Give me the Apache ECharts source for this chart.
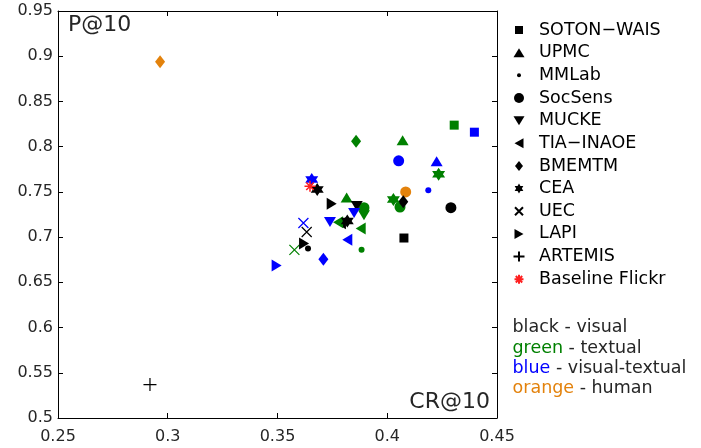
<!DOCTYPE html>
<html>
<head>
<meta charset="utf-8">
<script src="https://cdn.jsdelivr.net/npm/echarts@6/dist/echarts.min.js"></script>
<style>
html,body{margin:0;padding:0;background:#fff;}
#chart{width:701px;height:448px;}
</style>
</head>
<body>
<div id="chart"></div>
<script>
// Data: [CR@10, P@10, run type]  v = visual, t = textual, vt = visual-textual, h = human
const SOTON_WAIS = [[0.4076,0.699,'v'],[0.4305,0.8238,'t'],[0.4397,0.816,'vt']];
const UPMC = [[0.407,0.8071,'t'],[0.3815,0.7437,'t'],[0.4225,0.7839,'vt']];
const MMLab = [[0.3883,0.6861,'t'],[0.4187,0.7518,'vt'],[0.3639,0.6875,'v']];
const SocSens = [[0.429,0.7326,'v'],[0.3894,0.7326,'t'],[0.4058,0.7333,'t'],[0.4052,0.7844,'vt'],[0.4084,0.75,'h']];
const MUCKE = [[0.3861,0.7344,'v'],[0.3894,0.7241,'t'],[0.3849,0.7266,'vt'],[0.3739,0.7167,'vt']];
const TIA_INAOE = [[0.3789,0.7152,'v'],[0.3776,0.7163,'t'],[0.3879,0.7094,'t'],[0.3818,0.6972,'vt']];
const BMEMTM = [[0.4073,0.739,'v'],[0.3858,0.806,'t'],[0.3709,0.6754,'vt'],[0.2965,0.8939,'h']];
const CEA = [[0.3681,0.7526,'v'],[0.3818,0.7178,'v'],[0.4234,0.7695,'t'],[0.4028,0.7415,'t'],[0.3656,0.7636,'vt']];
const UEC = [[0.3633,0.7056,'v'],[0.3577,0.6859,'t'],[0.3618,0.7156,'vt']];
const LAPI = [[0.3747,0.737,'v'],[0.3621,0.693,'v'],[0.3496,0.6687,'vt']];
const ARTEMIS = [[0.2919,0.537,'v']];
const BaselineFlickr = [[0.3648,0.7562,'b']];

const xTicks = {min:0.25, max:0.45, interval:0.05};
const yTicks = {min:0.5, max:0.95, interval:0.05};

const COLORS = {v:'#000000', t:'#008000', vt:'#0000ff', h:'#e3820c', b:'#ff2020'};
const FONT = 'DejaVu Sans';
const TXT = '#262626';

// marker shapes
const HEX = 'path://M5,0L6.443,2.5L9.33,2.5L7.887,5L9.33,7.5L6.443,7.5L5,10L3.557,7.5L0.67,7.5L2.113,5L0.67,2.5L3.557,2.5Z';
const XPATH = 'path://M0,0L10,10M10,0L0,10';
const PLUS = 'path://M5,0L5,10M0,5L10,5';
const AST = 'path://M0,5L10,5M5,0L5,10M1.6,1.6L8.4,8.4M8.4,1.6L1.6,8.4';

// legend icons drawn in a 30x10 box (the leading moves fix the box)
const BOX = 'path://M0,0M30,10';
const LEG_ICONS = {
  'SOTON\u2212WAIS': BOX + 'M11,1L19,1L19,9L11,9Z',
  'UPMC': BOX + 'M15,0.5L20.5,9.5L9.5,9.5Z',
  'MMLab': BOX + 'M13,5A2,2,0,1,0,17,5A2,2,0,1,0,13,5Z',
  'SocSens': BOX + 'M10,5A5,5,0,1,0,20,5A5,5,0,1,0,10,5Z',
  'MUCKE': BOX + 'M9.5,0.5L20.5,0.5L15,9.5Z',
  'TIA\u2212INAOE': BOX + 'M10.5,5L19.5,0L19.5,10Z',
  'BMEMTM': BOX + 'M15,0L19,5L15,10L11,5Z',
  'CEA': BOX + 'M15,0L16.443,2.5L19.33,2.5L17.887,5L19.33,7.5L16.443,7.5L15,10L13.557,7.5L10.67,7.5L12.113,5L10.67,2.5L13.557,2.5Z',
  'UEC': BOX + 'M11,1L19,9M19,1L11,9',
  'LAPI': BOX + 'M10.5,0L19.5,5L10.5,10Z',
  'ARTEMIS': BOX + 'M15,0L15,10M9.5,5L20.5,5',
  'Baseline Flickr': BOX + 'M10.5,5L19.5,5M15,0.5L15,9.5M11.8,1.8L18.2,8.2M18.2,1.8L11.8,8.2'
};

function mk(name, arr, symbol, size, opts) {
  opts = opts || {};
  const sw = opts.stroke || 0;
  const baseColor = opts.color || '#000';
  return {
    name: name,
    type: 'scatter',
    symbol: symbol,
    symbolSize: size,
    symbolRotate: opts.rotate || 0,
    itemStyle: {color: baseColor, borderColor: baseColor, borderWidth: sw, opacity: 1},
    emphasis: {disabled: true},
    data: arr.map(function (d) {
      const c = COLORS[d[2]];
      return {value: [d[0], d[1]], itemStyle: {color: c, borderColor: c, borderWidth: sw}};
    })
  };
}

const series = [
  mk('SOTON\u2212WAIS', SOTON_WAIS, 'rect', 9),
  mk('UPMC', UPMC, 'triangle', [12, 10]),
  mk('MMLab', MMLab, 'circle', 6),
  mk('SocSens', SocSens, 'circle', 11),
  mk('MUCKE', MUCKE, 'triangle', [12, 10], {rotate: 180}),
  mk('TIA\u2212INAOE', TIA_INAOE, 'triangle', [12, 10], {rotate: 90}),
  mk('BMEMTM', BMEMTM, 'diamond', [10, 13]),
  mk('CEA', CEA, HEX, 13),
  mk('UEC', UEC, XPATH, 10, {stroke: 1.2}),
  mk('LAPI', LAPI, 'triangle', [12, 10], {rotate: -90}),
  mk('ARTEMIS', ARTEMIS, PLUS, 13, {stroke: 1.2}),
  mk('Baseline Flickr', BaselineFlickr, AST, 11, {stroke: 1.5, color: COLORS.b})
];

const legendData = series.map(function (s) {
  return {name: s.name, icon: LEG_ICONS[s.name]};
});

const axisCommon = {
  type: 'value',
  axisLine: {show: true, onZero: false, lineStyle: {color: '#000', width: 1}},
  axisTick: {show: true, inside: true, length: 5, lineStyle: {color: '#000', width: 1}},
  splitLine: {show: false},
  axisLabel: {fontFamily: FONT, fontSize: 16, color: TXT}
};

const chart = echarts.init(document.getElementById('chart'), null, {renderer: 'canvas'});
chart.setOption({
  animation: false,
  backgroundColor: '#fff',
  grid: {left: 58, top: 11, right: 204, bottom: 30, containLabel: false},
  xAxis: [
    Object.assign({}, axisCommon, xTicks, {position: 'bottom', axisLabel: Object.assign({}, axisCommon.axisLabel, {margin: 11})}),
    Object.assign({}, axisCommon, xTicks, {position: 'top', axisLabel: {show: false}})
  ],
  yAxis: [
    Object.assign({}, axisCommon, yTicks, {position: 'left', axisLabel: Object.assign({}, axisCommon.axisLabel, {margin: 5})}),
    Object.assign({}, axisCommon, yTicks, {position: 'right', axisLabel: {show: false}})
  ],
  legend: {
    orient: 'vertical',
    left: 503,
    top: 21,
    padding: 0,
    itemWidth: 30,
    itemHeight: 10,
    itemGap: 4.66,
    symbolRotate: 0,
    selectedMode: false,
    textStyle: {fontFamily: FONT, fontSize: 17.5, lineHeight: 17, color: '#000'},
    data: legendData
  },
  graphic: [
    {type: 'text', left: 68, top: 14, z: 100, style: {text: 'P@10', font: '22px "DejaVu Sans"', fill: TXT}},
    {type: 'text', right: 211, top: 391, z: 100, style: {text: 'CR@10', font: '22px "DejaVu Sans"', fill: TXT}},
    {type: 'text', x: 512.5, y: 327, z: 100, style: {text: 'black - visual', font: '17.5px "DejaVu Sans"', fill: TXT, verticalAlign: 'middle'}},
    {type: 'text', x: 512.5, y: 348, z: 100, style: {text: '{g|green} - textual', font: '17.5px "DejaVu Sans"', fill: TXT, verticalAlign: 'middle', rich: {g: {fill: COLORS.t, font: '17.5px "DejaVu Sans"'}}}},
    {type: 'text', x: 512.5, y: 368, z: 100, style: {text: '{b|blue} - visual-textual', font: '17.5px "DejaVu Sans"', fill: TXT, verticalAlign: 'middle', rich: {b: {fill: COLORS.vt, font: '17.5px "DejaVu Sans"'}}}},
    {type: 'text', x: 512.5, y: 388, z: 100, style: {text: '{o|orange} - human', font: '17.5px "DejaVu Sans"', fill: TXT, verticalAlign: 'middle', rich: {o: {fill: COLORS.h, font: '17.5px "DejaVu Sans"'}}}}
  ],
  series: series
});
</script>
</body>
</html>
